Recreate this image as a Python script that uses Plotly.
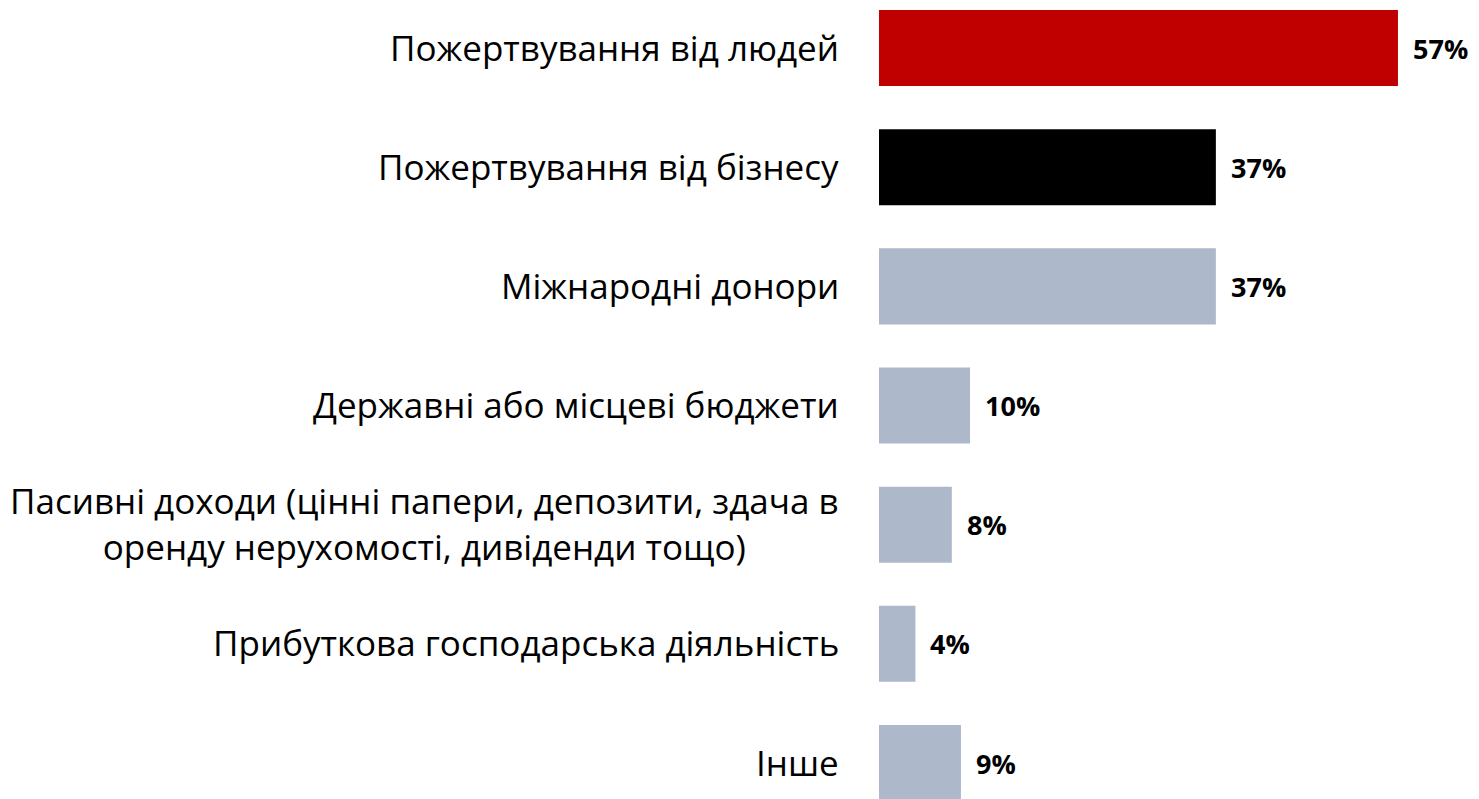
import plotly.graph_objects as go

categories = [
    "Пожертвування від людей",
    "Пожертвування від бізнесу",
    "Міжнародні донори",
    "Державні або місцеві бюджети",
    "Пасивні доходи (цінні папери, депозити, здача в<br>оренду нерухомості, дивіденди тощо)",
    "Прибуткова господарська діяльність",
    "Інше",
]
values = [57, 37, 37, 10, 8, 4, 9]
colors = ["#C00000", "#000000", "#ADB9CA", "#ADB9CA", "#ADB9CA", "#ADB9CA", "#ADB9CA"]

ypos = list(range(len(categories)))
FONT = "Open Sans"

fig = go.Figure(go.Bar(
    x=values, y=ypos, orientation="h",
    marker=dict(color=colors, line=dict(width=0)),
    width=0.638, hoverinfo="skip",
))

annotations = []
for i, (c, v) in enumerate(zip(categories, values)):
    annotations.append(dict(
        x=0, y=i, xref="x", yref="y", text=c, showarrow=False,
        xanchor="right", yanchor="middle", align="center", xshift=-38, yshift=1,
        font=dict(family=FONT, size=35, color="#000000"),
    ))
    annotations.append(dict(
        x=v, y=i, xref="x", yref="y", text=f"<b>{v}%</b>", showarrow=False,
        xanchor="left", yanchor="middle", xshift=13,
        font=dict(family=FONT, size=27, color="#000000"),
    ))

fig.update_layout(
    width=1471, height=791,
    margin=dict(l=871, r=0, t=0, b=0),
    paper_bgcolor="white", plot_bgcolor="white",
    showlegend=False,
    xaxis=dict(range=[0, 65.9], visible=False, fixedrange=True),
    yaxis=dict(range=[6.302, -0.336], visible=False, fixedrange=True),
    annotations=annotations,
)

fig.write_html("out.html")
